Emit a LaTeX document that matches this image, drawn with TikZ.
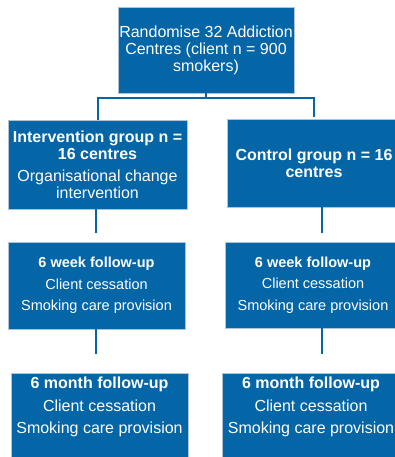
\documentclass[tikz,border=0pt]{standalone}
\usepackage{fontspec}
\setmainfont{Liberation Sans}
\usetikzlibrary{positioning}
\definecolor{trialblue}{RGB}{4,101,167}
\definecolor{edgegrey}{RGB}{175,195,215}
\tikzset{
  bluebox/.style={fill=trialblue,draw=edgegrey,line width=0.4pt,text=white,align=center,inner sep=0pt},
  bigtext/.style={font=\fontsize{16}{17}\selectfont},
  smalltext/.style={font=\fontsize{14.5}{21.5}\selectfont},
  monthtext/.style={font=\fontsize{16}{22.5}\selectfont},
  link/.style={draw=trialblue,line width=2pt}
}
\begin{document}
\begin{tikzpicture}[x=1pt,y=1pt]
\useasboundingbox (0,0) rectangle (395,-457);
\clip (0,0) rectangle (395,-457);

\node[bluebox,bigtext,minimum width=176,minimum height=86] (rand) at (206,-50)
  {Randomise 32 Addiction\\Centres (client n = 900\\smokers)};
\node[bluebox,bigtext,minimum width=179,minimum height=89] (intv) at (97.5,-164.5)
  {\textbf{Intervention group n =}\\\textbf{16 centres}\\[5pt]Organisational change\\intervention};
\node[bluebox,bigtext,minimum width=174,minimum height=88] (ctrl) at (314,-163)
  {\textbf{Control group n = 16}\\\textbf{centres}};

\node[bluebox,smalltext,minimum width=177,minimum height=87] (wkint) at (96.5,-285.5)
  {\textbf{6 week follow-up}\\Client cessation\\Smoking care provision};
\node[bluebox,smalltext,minimum width=176,minimum height=86] (wkctl) at (313,-285)
  {\textbf{6 week follow-up}\\Client cessation\\Smoking care provision};

\node[bluebox,monthtext,anchor=north] (moint) at (99.5,-373)
  {\parbox[t][100pt][t]{177pt}{\centering\vspace{4pt}\textbf{6 month follow-up}\\Client cessation\\Smoking care provision}};
\node[bluebox,monthtext,anchor=north] (moctl) at (311,-373)
  {\parbox[t][100pt][t]{177pt}{\centering\vspace{4pt}\textbf{6 month follow-up}\\Client cessation\\Smoking care provision}};

\draw[link] (rand.south) -- ++(0,-5) coordinate (split);
\draw[link] (split) -| (intv.north);
\draw[link] (split) -| ([yshift=2pt]ctrl.north);
\draw[link] ([xshift=-2pt]intv.south) -- ++(0,-24);
\draw[link] ([xshift=8pt]ctrl.south) -- ++(0,-26);
\draw[link] ([xshift=-1pt]wkint.south) -- ++(0,-25);
\draw[link] ([xshift=9pt]wkctl.south) -- ++(0,-26);
\end{tikzpicture}
\end{document}
